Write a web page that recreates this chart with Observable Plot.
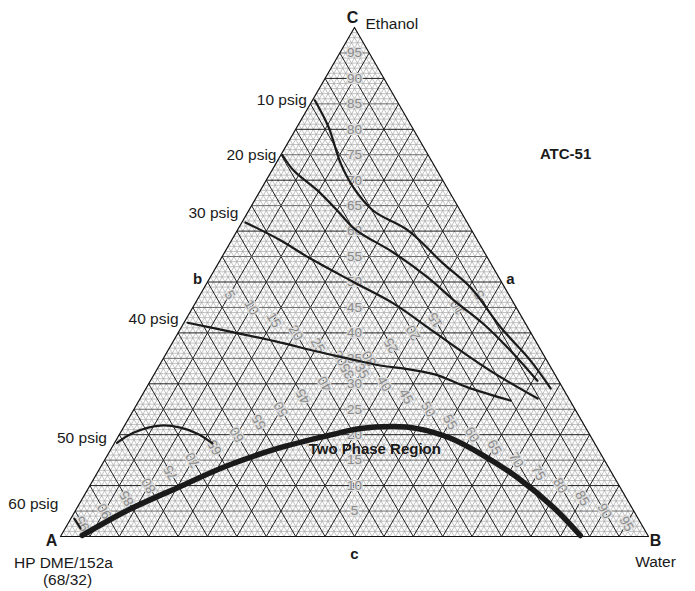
<!DOCTYPE html>
<html>
<head>
<meta charset="utf-8">
<script src="https://cdn.jsdelivr.net/npm/d3@7"></script>
<script src="https://cdn.jsdelivr.net/npm/@observablehq/plot@0.6"></script>
<style>
  html, body { margin: 0; padding: 0; background: white; }
  svg { display: block; }
</style>
</head>
<body>
<div id="chart"></div>
<script>
// ---------- DATA (ternary: [B% water, C% ethanol]; A% = 100 - B - C) ----------
const tickValues = [5, 10, 15, 20, 25, 30, 35, 40, 45, 50, 55, 60, 65, 70, 75, 80, 85, 90, 95];
const tickLabels = ["5","10","15","20","25","30","35","40","45","50","55","60","65","70","75","80","85","90","95"];

const psig10 = [[0.4,85.7],[5.4,80.4],[11.0,73.3],[15.5,68.6],[21.2,64.0],[29.1,60.1],[38.3,53.6],[45.3,48.9],[54.3,41.1],[62.6,34.6],[68.8,29.1]];
const psig20 = [[0.3,74.9],[3.7,71.9],[9.7,68.0],[15.1,64.0],[20.0,60.3],[28.7,55.8],[37.0,50.9],[43.7,46.4],[51.0,41.8],[58.3,36.5],[65.8,30.6]];
const psig30 = [[0.6,61.7],[8.3,58.2],[14.8,54.8],[24.6,50.1],[33.7,45.8],[41.9,41.1],[49.8,36.5],[57.5,32.2],[67.6,27.1]];
const psig40 = [[0.6,42.0],[9.4,40.1],[18.4,38.1],[24.8,36.5],[31.3,35.0],[37.6,33.6],[43.1,32.8],[47.9,31.8],[54.6,29.3],[63.2,26.7]];
const psig50 = [[0.4,18.4],[2.2,20.4],[6.1,21.8],[9.7,21.4],[13.2,20.2],[16.7,18.3]];
const psig60 = [[0.6,3.5],[2.6,1.6]];
const twoPhase = [[3.6,0.2],[8.8,5.1],[15.1,9.6],[21.4,13.9],[28.3,17.3],[35.5,19.8],[40.4,21.2],[45.8,21.6],[50.1,21.2],[56.7,19.3],[64.0,15.9],[71.9,11.6],[81.0,5.7],[88.3,0.2]];

const curveNames = ["10 psig", "20 psig", "30 psig", "40 psig", "50 psig", "60 psig"];
const curveData = [psig10, psig20, psig30, psig40, psig50, psig60];

const vertexNames = ["A", "B", "C"];
const vertexTernary = [[0, 0], [100, 0], [0, 100]];
const componentNames = ["HP DME/152a", "Water", "Ethanol"];
const midNames = ["a", "b", "c"];            // midpoints of BC, AC, AB
const midTernary = [[50, 50], [0, 50], [50, 0]];
const seriesTitle = "ATC-51";
const seriesTitlePos = [48.3, 75.2];
const regionLabel = "Two Phase Region";
const regionLabelPos = [44.9, 17.1];
const compositionNote = "(68/32)";

// ---------- LAYOUT / STYLE ----------
const S = Math.sqrt(3) / 2;
const X = (b, c) => (b + c / 2) / 100;
const Y = (b, c) => (c * S) / 100;
const FONT = "'Liberation Sans', Arial, Helvetica, sans-serif";
const FS = 15.5;
const labelOffsets = [[-8, 0], [-6, 0], [-7, -9], [-9, -4], [-10, -5], [-16, -15]];

// grid segments
const fine = d3.range(1, 100).filter(k => k % 5 !== 0);
function segs(vals) {
  const out = [];
  for (const k of vals) {
    out.push({dir: "C", k, p1: [0, k], p2: [100 - k, k]});
    out.push({dir: "B", k, p1: [k, 0], p2: [k, 100 - k]});
    out.push({dir: "A", k, p1: [100 - k, 0], p2: [0, 100 - k]});
  }
  return out;
}
const fineSegs = segs(fine);
const majorSegs = segs(tickValues);

const lx1 = d => X(...d.p1), ly1 = d => Y(...d.p1), lx2 = d => X(...d.p2), ly2 = d => Y(...d.p2);

const outline = [...vertexTernary, vertexTernary[0]];

// tick label positions on medians
const cTicks = tickValues.map((v, i) => ({t: tickLabels[i], b: (100 - v) / 2, c: v}));
const bTicks = tickValues.map((v, i) => ({t: tickLabels[i], b: v, c: (100 - v) / 2}));
const aTicks = tickValues.map((v, i) => ({t: tickLabels[i], b: (100 - v) / 2, c: (100 - v) / 2}));

const tickStyle = {fill: "#8a8a8a", fontSize: 13.5, stroke: "#dedede", strokeWidth: 2.5, paintOrder: "stroke", fontFamily: FONT};

const marks = [
  // fine 1% mesh
  Plot.link(fineSegs, {x1: lx1, y1: ly1, x2: lx2, y2: ly2, stroke: "#a8a8a8", strokeWidth: 0.7}),
  // 5% grid
  Plot.link(majorSegs, {x1: lx1, y1: ly1, x2: lx2, y2: ly2,
    stroke: d => (d.dir === "C" && d.k % 10 !== 0) ? "#6a6a6a" : "#1e1e1e", strokeWidth: 1}),
  // outline
  Plot.line(outline, {x: d => X(d[0], d[1]), y: d => Y(d[0], d[1]), stroke: "#111", strokeWidth: 1.2}),
  // tick labels
  Plot.text(cTicks, {x: d => X(d.b, d.c), y: d => Y(d.b, d.c), text: "t", ...tickStyle}),
  Plot.text(bTicks, {x: d => X(d.b, d.c), y: d => Y(d.b, d.c), text: "t", rotate: 60, ...tickStyle}),
  Plot.text(aTicks, {x: d => X(d.b, d.c), y: d => Y(d.b, d.c), text: "t", rotate: -120, ...tickStyle}),
  // two-phase boundary
  Plot.line(twoPhase, {x: d => X(d[0], d[1]), y: d => Y(d[0], d[1]), stroke: "#1a1a1a", strokeWidth: 5.5, curve: "catmull-rom"}),
];

curveData.forEach((data, i) => {
  marks.push(Plot.line(data, {x: d => X(d[0], d[1]), y: d => Y(d[0], d[1]), stroke: "#1a1a1a", strokeWidth: 2.2, curve: "catmull-rom"}));
  marks.push(Plot.text([data[0]], {x: d => X(d[0], d[1]), y: d => Y(d[0], d[1]), text: () => curveNames[i],
    textAnchor: "end", dx: labelOffsets[i][0], dy: labelOffsets[i][1], fontSize: FS, fill: "#1a1a1a", fontFamily: FONT}));
});

// vertex letters
const vOff = [[-9, 4], [7, 4], [-2, -10]];
vertexTernary.forEach((v, i) => {
  marks.push(Plot.text([v], {x: d => X(d[0], d[1]), y: d => Y(d[0], d[1]), text: () => vertexNames[i],
    dx: vOff[i][0], dy: vOff[i][1], fontSize: 16, fontWeight: "bold", fill: "#1a1a1a", fontFamily: FONT}));
});
// component names
marks.push(Plot.text([vertexTernary[0]], {x: d => X(d[0], d[1]), y: d => Y(d[0], d[1]), text: () => componentNames[0], dx: 3, dy: 27, fontSize: FS, fill: "#1a1a1a", fontFamily: FONT}));
marks.push(Plot.text([vertexTernary[0]], {x: d => X(d[0], d[1]), y: d => Y(d[0], d[1]), text: () => compositionNote, dx: 7, dy: 44, fontSize: FS, fill: "#1a1a1a", fontFamily: FONT}));
marks.push(Plot.text([vertexTernary[1]], {x: d => X(d[0], d[1]), y: d => Y(d[0], d[1]), text: () => componentNames[1], dx: 7, dy: 26, fontSize: FS, fill: "#1a1a1a", fontFamily: FONT}));
marks.push(Plot.text([vertexTernary[2]], {x: d => X(d[0], d[1]), y: d => Y(d[0], d[1]), text: () => componentNames[2], dx: 11, dy: -3, textAnchor: "start", fontSize: FS, fill: "#1a1a1a", fontFamily: FONT}));
// midpoint letters
const mOff = [[9, -3], [-10, -3], [0, 18]];
midTernary.forEach((m, i) => {
  marks.push(Plot.text([m], {x: d => X(d[0], d[1]), y: d => Y(d[0], d[1]), text: () => midNames[i],
    dx: mOff[i][0], dy: mOff[i][1], fontSize: 15, fontWeight: "bold", fill: "#1a1a1a", fontFamily: FONT}));
});
// annotations
marks.push(Plot.text([seriesTitlePos], {x: d => X(d[0], d[1]), y: d => Y(d[0], d[1]), text: () => seriesTitle, fontSize: 15, fontWeight: "bold", fill: "#1a1a1a", fontFamily: FONT}));
marks.push(Plot.text([regionLabelPos], {x: d => X(d[0], d[1]), y: d => Y(d[0], d[1]), text: () => regionLabel, fontSize: 15, fontWeight: "bold", fill: "#1a1a1a", fontFamily: FONT}));

const chart = Plot.plot({
  width: 695,
  height: 591,
  margin: 0,
  style: {background: "white", fontFamily: FONT},
  x: {domain: [0, 1], range: [60, 648], axis: null},
  y: {domain: [0, S], range: [536, 27], axis: null},
  marks
});
document.getElementById("chart").appendChild(chart);
</script>
</body>
</html>
